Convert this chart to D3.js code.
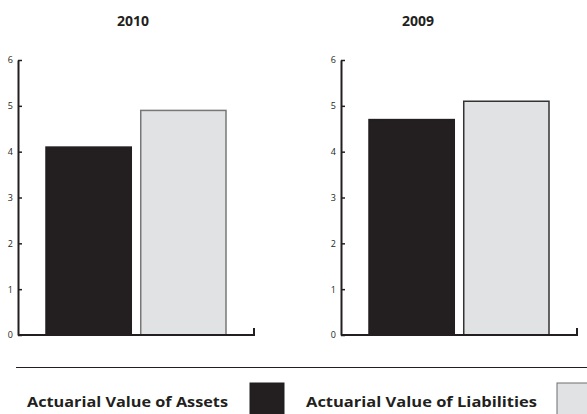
<!DOCTYPE html>
<html>
<head>
<meta charset="utf-8">
<script src="https://cdn.jsdelivr.net/npm/d3@7"></script>
<style>
  html, body { margin: 0; padding: 0; background: #fff; }
  text { font-family: "Open Sans", "Liberation Sans", sans-serif; fill: #231f20; }
</style>
</head>
<body>
<div id="chart"></div>
<script>
const years = ["2010", "2009"];
const series = ["Actuarial Value of Assets", "Actuarial Value of Liabilities"];
const assets = [4.1, 4.7];
const liabilities = [4.9, 5.1];
const yTicks = [0, 1, 2, 3, 4, 5, 6];

const colors = {
  "Actuarial Value of Assets": { fill: "#231f20", stroke: "#231f20" },
  "Actuarial Value of Liabilities": { fill: "#e1e2e4", stroke: "#6f6f6f" }
};
// the 2009 panel draws the liabilities outline darker
const panelStroke = ["#777777", "#333333"];

const width = 587, height = 414;
const svg = d3.select("#chart").append("svg")
  .attr("width", width).attr("height", height);

const panelX = [18, 341];
const titleX = [133, 418];
const panelW = 236;

const yScale = d3.scaleLinear().domain([0, 6]).range([335, 60]);
const xScale = d3.scaleBand().domain(series).range([28, 208]).paddingInner(0.1);

years.forEach((yr, i) => {
  const g = svg.append("g").attr("transform", `translate(${panelX[i]},0)`);

  svg.append("text")
    .attr("x", titleX[i]).attr("y", 26)
    .attr("text-anchor", "middle")
    .attr("font-size", 14).attr("font-weight", "bold")
    .text(yr);

  const vals = [assets[i], liabilities[i]];
  g.selectAll("rect.bar").data(series).enter().append("rect")
    .attr("class", "bar")
    .attr("x", d => xScale(d))
    .attr("width", xScale.bandwidth())
    .attr("y", (d, j) => yScale(vals[j]))
    .attr("height", (d, j) => yScale(0) - yScale(vals[j]))
    .attr("fill", d => colors[d].fill)
    .attr("stroke", (d, j) => j === 0 ? colors[d].stroke : panelStroke[i])
    .attr("stroke-width", 1.5);

  const yAxis = g.append("g")
    .call(d3.axisLeft(yScale).tickValues(yTicks).tickFormat(d3.format("d"))
      .tickSize(-4).tickSizeOuter(0).tickPadding(5));
  yAxis.select(".domain").attr("stroke", "#231f20").attr("stroke-width", 2);
  yAxis.selectAll(".tick line").attr("stroke", "#231f20").attr("stroke-width", 1.5);
  yAxis.selectAll(".tick text").attr("font-size", 9).attr("fill", "#231f20")
    .attr("font-family", "'Open Sans', sans-serif");

  // baseline with small up-tick at right end
  g.append("path")
    .attr("d", `M0,${yScale(0)}H${panelW}V${yScale(0) - 7}`)
    .attr("fill", "none").attr("stroke", "#231f20").attr("stroke-width", 2);
});

// separator
svg.append("line")
  .attr("x1", 16).attr("x2", width).attr("y1", 367.5).attr("y2", 367.5)
  .attr("stroke", "#231f20").attr("stroke-width", 1);

// legend
const legendText = [27, 306];
const legendLen = [201, 231];
const legendBox = [250, 557];
series.forEach((s, i) => {
  svg.append("text")
    .attr("x", legendText[i]).attr("y", 407)
    .attr("font-size", 15).attr("font-weight", "bold")
    .attr("textLength", legendLen[i]).attr("lengthAdjust", "spacingAndGlyphs")
    .text(s);
  svg.append("rect")
    .attr("x", legendBox[i]).attr("y", 383)
    .attr("width", 34).attr("height", 36)
    .attr("fill", colors[s].fill)
    .attr("stroke", colors[s].stroke).attr("stroke-width", 1);
});
</script>
</body>
</html>
